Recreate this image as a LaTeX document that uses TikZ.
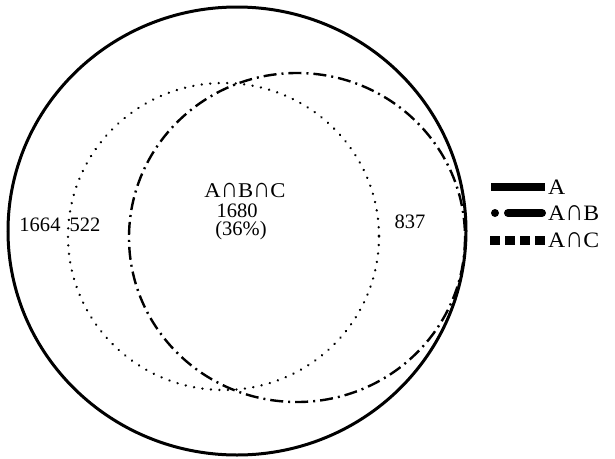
\documentclass[tikz,border=0pt]{standalone}
\usepackage{fontspec}
\setmainfont{Liberation Serif}
\newcommand{\wint}{\smash{\scalebox{1.05}[1.35]{∩}}}
\newcommand{\wide}[1]{\scalebox{1.08}[1]{#1}}
\begin{document}
\begin{tikzpicture}[x=1pt,y=-1pt,
  setA/.style={line width=3pt},
  setB/.style={line width=2.4pt,dash pattern=on 13pt off 5pt on 2pt off 5pt},
  setC/.style={line width=2.6pt,line cap=round,dash pattern=on 0.01pt off 8.5pt},
  num/.style={font=\fontsize{20.5}{22}\selectfont,inner sep=0pt},
  lab/.style={font=\fontsize{22}{24}\selectfont,inner sep=0pt,anchor=west}]
\useasboundingbox (0,0) rectangle (615,458);
% sets
\draw[setA] (237,231) ellipse [x radius=229,y radius=224];
\draw[setB] (297,237.5) ellipse [x radius=168,y radius=164.5];
\draw[setC] (223.5,236.5) ellipse [x radius=155.5,y radius=153.5];
% region labels
\node[num] (n1664) at (40,225) {1664};
\node[num] (n522) at (85,225) {522};
\node[num] (n837) at (410,222) {837};
\node[font=\fontsize{21}{22}\selectfont,inner sep=0pt] (abc) at (245,191) {\wide{A\wint B\wint C}};
\node[num] (n1680) at (237,211) {1680};
\node[num] (n36) at (241,231) {(36\%)};
% legend
\coordinate (la1) at (491,187);
\coordinate (la2) at (545,187);
\draw[line width=8pt] (la1) -- (la2);
\node[lab] (lA) at (548,187) {\wide{A}};
\coordinate (lb0) at (495,213);
\coordinate (lb1) at (508,213);
\coordinate (lb2) at (542,213);
\fill (lb0) circle [radius=4pt];
\draw[line width=8pt,line cap=round] (lb1) -- (lb2);
\node[lab] (lB) at (548,213) {\wide{A\wint B}};
\foreach \i in {0,1,2,3}{
  \fill (490+\i*15,235.5) rectangle ++(9.5,9);
}
\node[lab] (lC) at (548,240) {\wide{A\wint C}};
\end{tikzpicture}
\end{document}
